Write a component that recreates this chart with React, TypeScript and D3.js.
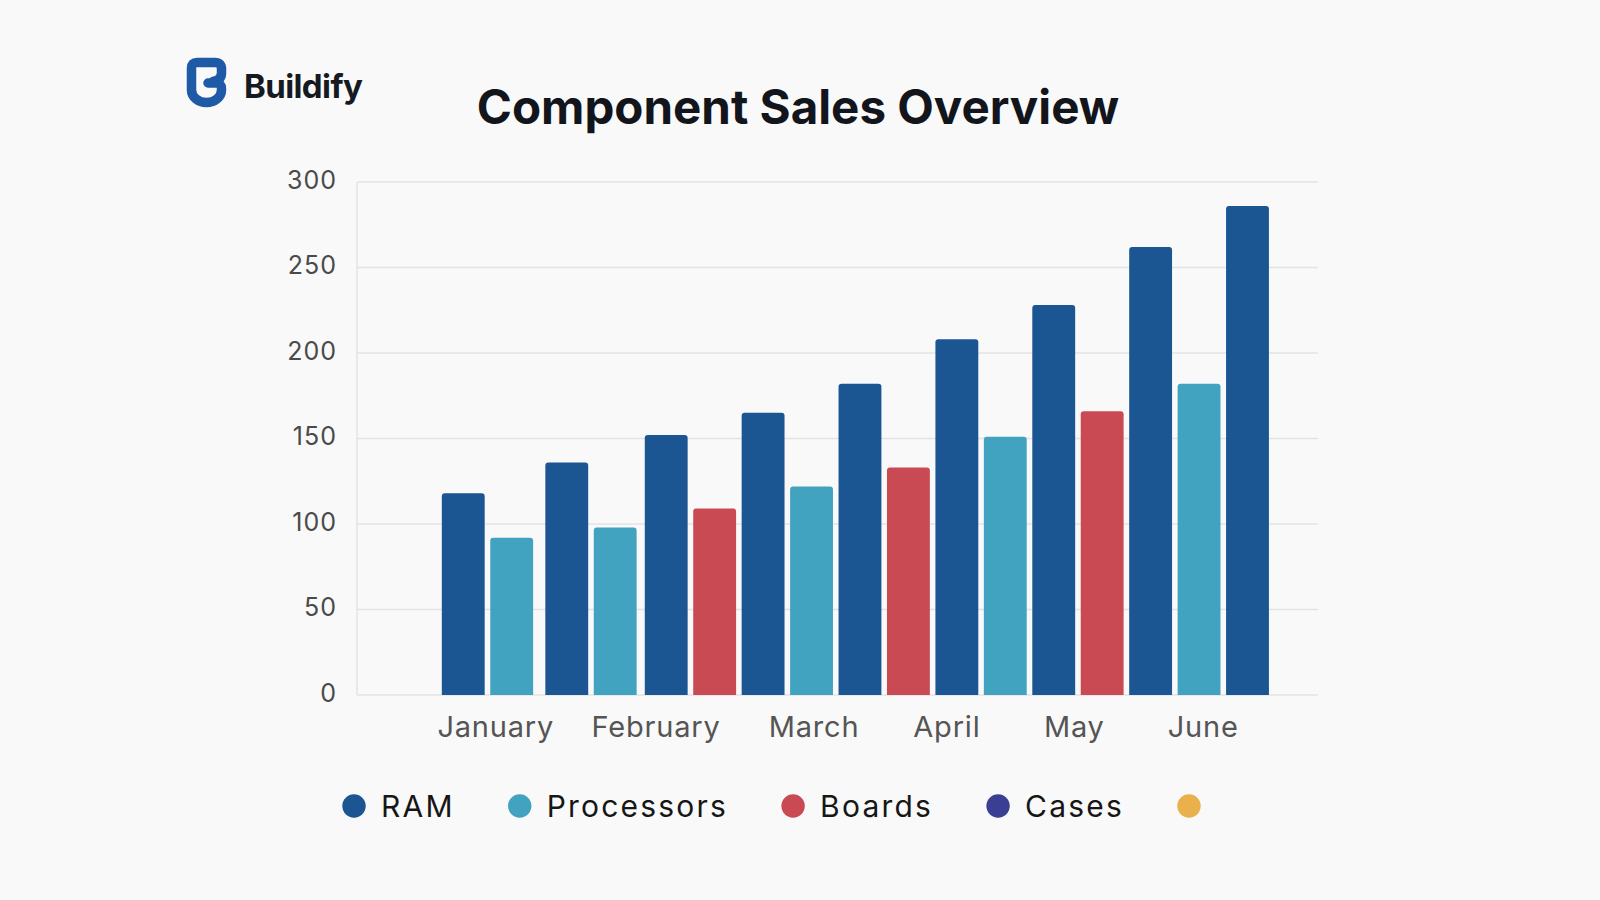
import React, { useEffect, useRef } from "react";
import * as d3 from "d3";

// ---- data ----
const seriesNames = ["RAM", "Processors", "Boards", "Cases", ""];
const seriesColors = ["#1b5592", "#42a3c0", "#c94a52", "#3b3f94", "#e9b04b"];

// bars in drawing order (series of each bar, its value, and the cluster it sits in)
const barSeries = ["RAM", "Processors", "RAM", "Processors", "RAM", "Boards", "RAM", "Processors", "RAM", "Boards", "RAM", "Processors", "RAM", "Boards", "RAM", "Processors", "RAM"];
const barValues = [118, 92, 136, 98, 152, 109, 165, 122, 182, 133, 208, 151, 228, 166, 262, 182, 286];
const barCluster = [0, 0, 1, 1, 2, 2, 2, 2, 2, 2, 2, 2, 2, 2, 2, 2, 2];
// extra spacing (in bar steps) accumulated before each cluster
const clusterShift = [0, 0.137, 0.19];

// month tick labels and where they sit, measured in bar-index units
const months = ["January", "February", "March", "April", "May", "June"];
const monthAt = [0.66, 3.92, 7.13, 9.83, 12.42, 15.04];

const yTicks = [0, 50, 100, 150, 200, 250, 300];

const W = 1600;
const H = 900;
const FONT = "Inter, 'Noto Sans', Roboto, sans-serif";

export default function App() {
  const ref = useRef<SVGSVGElement | null>(null);

  useEffect(() => {
    const svg = d3.select(ref.current);
    svg.selectAll("*").remove();

    const left = 357, right = 1318, top = 182, bottom = 695;

    svg.append("rect").attr("width", W).attr("height", H).attr("fill", "#f9f9f9");

    const y = d3.scaleLinear().domain([0, 300]).range([bottom, top]);

    // slot position of each bar: index plus the extra gap of its cluster
    const slots = barValues.map((_, i) => i + clusterShift[barCluster[i]]);
    const lastSlot = slots[slots.length - 1];
    const padL = 1.751, padR = 0.898;
    const xs = d3.scaleLinear().domain([-padL, lastSlot + 1 + padR]).range([left, right]);
    const step = xs(1) - xs(0);
    const bw = step * 0.885;
    const color = d3.scaleOrdinal<string, string>().domain(seriesNames).range(seriesColors);

    // grid
    svg
      .append("g")
      .selectAll("line")
      .data(yTicks)
      .join("line")
      .attr("x1", left)
      .attr("x2", right)
      .attr("y1", (d) => y(d))
      .attr("y2", (d) => y(d))
      .attr("stroke", "#e3e3e3")
      .attr("stroke-width", 1.5);
    svg
      .append("line")
      .attr("x1", left)
      .attr("x2", left)
      .attr("y1", top)
      .attr("y2", bottom)
      .attr("stroke", "#e3e3e3")
      .attr("stroke-width", 1.5);

    // y labels
    svg
      .append("g")
      .selectAll("text")
      .data(yTicks)
      .join("text")
      .attr("x", 337)
      .attr("y", (d) => y(d) + 6.5)
      .attr("text-anchor", "end")
      .attr("font-family", FONT)
      .attr("font-size", 25)
      .attr("letter-spacing", 1)
      .attr("fill", "#4a4a4a")
      .text((d) => String(d));

    // bars with rounded top corners
    const r = 3;
    svg
      .append("g")
      .selectAll("path")
      .data(barValues)
      .join("path")
      .attr("d", (v, i) => {
        const x0 = xs(slots[i]);
        const w = bw;
        const y0 = y(v);
        const yb = y(0);
        return `M${x0},${yb}V${y0 + r}Q${x0},${y0} ${x0 + r},${y0}H${x0 + w - r}Q${x0 + w},${y0} ${x0 + w},${y0 + r}V${yb}Z`;
      })
      .attr("fill", (_, i) => color(barSeries[i]));

    // month labels
    const firstCenter = xs(0) + bw / 2;
    const mx = d3.scaleLinear().domain([0, 1]).range([firstCenter, firstCenter + 49.2]);
    svg
      .append("g")
      .selectAll("text")
      .data(months)
      .join("text")
      .attr("x", (_, i) => mx(monthAt[i]))
      .attr("y", 737)
      .attr("text-anchor", "middle")
      .attr("font-family", FONT)
      .attr("font-size", 29)
      .attr("letter-spacing", 0.8)
      .attr("fill", "#555555")
      .text((d) => d);

    // title
    svg
      .append("text")
      .attr("x", 798)
      .attr("y", 124)
      .attr("text-anchor", "middle")
      .attr("font-family", FONT)
      .attr("font-weight", 700)
      .attr("font-size", 47.5)
      .attr("fill", "#12151c")
      .text("Component Sales Overview");

    // logo
    const logo = svg.append("g");
    logo
      .append("path")
      .attr(
        "d",
        "M208,83 H216 Q221.5,83 221.5,89 V90 A15,12.5 0 0 1 191.5,90 V68 Q191.5,62.5 197,62.5 H215 Q221.5,62.5 221.5,69 V73 Q221.5,80 213,81.5"
      )
      .attr("fill", "none")
      .attr("stroke", "#1f5aa6")
      .attr("stroke-width", 9.5)
      .attr("stroke-linejoin", "round")
      .attr("stroke-linecap", "round");
    logo
      .append("text")
      .attr("x", 244)
      .attr("y", 98)
      .attr("font-family", FONT)
      .attr("font-weight", 700)
      .attr("font-size", 33)
      .attr("letter-spacing", -0.6)
      .attr("fill", "#151922")
      .text("Buildify");

    // legend, laid out from measured text widths
    const lg = svg.append("g");
    let cx = 354;
    const cy = 806;
    seriesNames.forEach((name, i) => {
      lg.append("circle").attr("cx", cx).attr("cy", cy).attr("r", 11.7).attr("fill", seriesColors[i]);
      const t = lg
        .append("text")
        .attr("x", cx + 27)
        .attr("y", cy + 10.5)
        .attr("font-family", FONT)
        .attr("font-size", 30)
        .attr("letter-spacing", 2.2)
        .attr("fill", "#161616")
        .text(name);
      const tw = (t.node() as SVGTextElement).getComputedTextLength();
      cx = cx + 27 + tw + 65;
    });
  }, []);

  return (
    <svg
      ref={ref}
      width={W}
      height={H}
      style={{ display: "block", position: "fixed", left: 0, top: 0 }}
    />
  );
}
